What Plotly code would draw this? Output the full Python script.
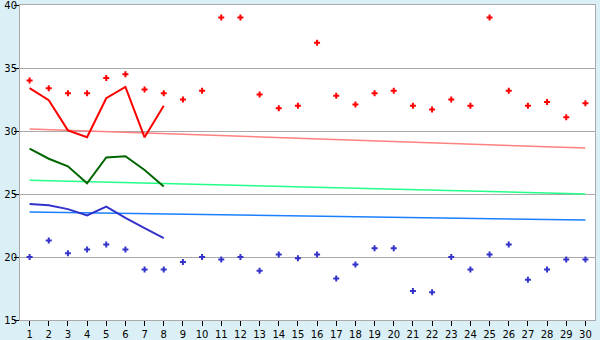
import plotly.graph_objects as go

days = list(range(1, 31))
red_points = [34.0, 33.4, 33.0, 33.0, 34.2, 34.5, 33.3, 33.0, 32.5, 33.2,
              39.0, 39.0, 32.9, 31.8, 32.0, 37.0, 32.8, 32.1, 33.0, 33.2,
              32.0, 31.7, 32.5, 32.0, 39.0, 33.2, 32.0, 32.3, 31.1, 32.2]
blue_points = [20.0, 21.3, 20.3, 20.6, 21.0, 20.6, 19.0, 19.0, 19.6, 20.0,
               19.8, 20.0, 18.9, 20.2, 19.9, 20.2, 18.3, 19.4, 20.7, 20.7,
               17.3, 17.2, 20.0, 19.0, 20.2, 21.0, 18.2, 19.0, 19.8, 19.8]
line_days = list(range(1, 9))
red_line = [33.4, 32.45, 30.05, 29.5, 32.6, 33.5, 29.5, 32.0]
green_line = [28.6, 27.8, 27.2, 25.85, 27.9, 28.0, 26.9, 25.6]
blue_line = [24.2, 24.1, 23.8, 23.3, 24.0, 23.1, 22.3, 21.5]
trend_days = [1, 30]
red_trend = [30.15, 28.65]
green_trend = [26.1, 25.0]
blue_trend = [23.57, 22.93]

fig = go.Figure()
fig.add_trace(go.Scatter(x=trend_days, y=red_trend, mode="lines",
                         line=dict(color="#ff8080", width=1.5)))
fig.add_trace(go.Scatter(x=trend_days, y=green_trend, mode="lines",
                         line=dict(color="#22ff88", width=1.5)))
fig.add_trace(go.Scatter(x=trend_days, y=blue_trend, mode="lines",
                         line=dict(color="#1a80ff", width=1.5)))
fig.add_trace(go.Scatter(x=line_days, y=red_line, mode="lines",
                         line=dict(color="#ff0000", width=2)))
fig.add_trace(go.Scatter(x=line_days, y=green_line, mode="lines",
                         line=dict(color="#006600", width=2)))
fig.add_trace(go.Scatter(x=line_days, y=blue_line, mode="lines",
                         line=dict(color="#3333cc", width=2)))
fig.add_trace(go.Scatter(x=days, y=red_points, mode="markers",
                         marker=dict(symbol="cross", size=5, color="#ff0000", line=dict(width=0))))
fig.add_trace(go.Scatter(x=days, y=blue_points, mode="markers",
                         marker=dict(symbol="cross", size=5, color="#3333cc", line=dict(width=0))))

fig.update_layout(
    width=600, height=340,
    margin=dict(l=20, r=5, t=5, b=20),
    paper_bgcolor="#daf0f6",
    plot_bgcolor="#ffffff",
    showlegend=False,
    font=dict(family="DejaVu Sans", size=10, color="#000000"),
)
fig.update_xaxes(range=[0.5, 30.5], tickmode="array", tickvals=days,
                 ticks="outside", ticklen=5, tickcolor="#000000", ticklabelstandoff=0,
                 ticklabeloverflow="allow",
                 showgrid=False, zeroline=False, automargin=False,
                 showline=True, linecolor="#aaaaaa", linewidth=1, mirror=True)
fig.update_yaxes(range=[15, 40], tickmode="array", tickvals=[15, 20, 25, 30, 35, 40],
                 ticks="outside", ticklen=5, tickcolor="#000000", ticklabelstandoff=-5,
                 ticklabeloverflow="allow",
                 showgrid=True, gridcolor="#aaaaaa", gridwidth=1, zeroline=False, automargin=False,
                 showline=True, linecolor="#aaaaaa", linewidth=1, mirror=True)

fig.write_html("out.html")
